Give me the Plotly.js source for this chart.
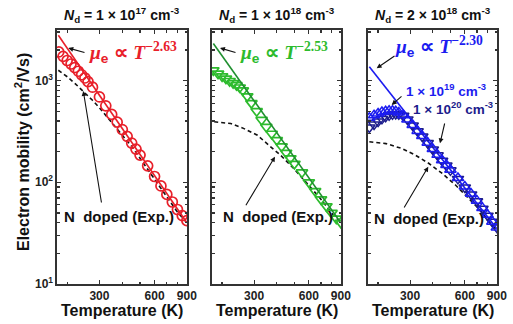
<!DOCTYPE html>
<html><head><meta charset="utf-8">
<script src="https://cdn.plot.ly/plotly-3.0.1.min.js"></script>
<style>html,body{margin:0;padding:0;background:#fff;}#chart{width:513px;height:324px;}</style>
</head><body><div id="chart"></div>
<script>
// ---- Panel 1: Nd = 1e17 (red) ----
const T_calc17 = [180,190,200,210,220,230,240,250,260,275,300,325,350,375,400,425,450,475,500,550,600,650,700,750,800,850,900];
const mu_calc17 = [1910,1730,1575,1455,1340,1235,1140,1060,975,860,690,565,465,390,330,283,243,212,185,145,114,92,76,64,54,47,42];
const T_fit17 = [179,900];
const mu_fit17 = [2790,40];
const T_exp17 = [179,200,221,250,275,300,350,400,450,500,600,700,800,900];
const mu_exp17 = [1263,1090,934,760,640,540,390,295,225,172,107,72,51,40];

// ---- Panel 2: Nd = 1e18 (green) ----
const T_calc18 = [179,190,200,210,220,230,240,250,260,275,290,310,330,350,375,400,425,450,475,500,550,600,650,700,750,800,850,900];
const mu_calc18 = [1260,1170,1100,1045,990,945,900,855,800,700,600,500,410,350,300,260,225,195,172,152,125,100,82,68,58,50,44,40];
const T_fit18 = [179,900];
const mu_fit18 = [2310,40];
const T_exp18 = [181,223,264,313,370,420,497,588,696,822,900];
const mu_exp18 = [393,378,337,290,223,184,136,97,69,47,41];

// ---- Panel 3: Nd = 2e18 (blue) ----
const T_calc2e18 = [179,190,200,210,220,230,240,250,260,275,290,310,330,350,375,400,425,450,475,500,550,600,650,700,750,800,850,900];
const mu_calc_19 = [430,455,475,490,500,505,505,500,485,455,415,365,320,285,245,212,186,165,148,133,110,91,77,66,56,48,41,36];
const mu_calc_20 = [345,370,395,420,440,455,465,470,465,450,415,362,318,282,243,210,184,163,146,131,108,89,76,65,55,47,41,36];
const T_fit2e18 = [179,900];
const mu_fit2e18 = [1365,35];
const T_exp2e18 = [179,221,272,322,381,451,533,631,731,848,900];
const mu_exp2e18 = [250,240,214,184,153,122,94,69,53,37.5,34];

const panelTitles = ['1 × 10<sup>17</sup>','1 × 10<sup>18</sup>','2 × 10<sup>18</sup>'];
const fitExp = ['−2.63','−2.53','−2.30'];
const xTickVals = [300,600,900];
const xTickText = ['300','600','900'];
const yTickVals = [10,100,1000];
const yTickText = ['10<sup>1</sup>','10<sup>2</sup>','10<sup>3</sup>'];

const RED='#e8202a', GREEN_L='#1f8f2f', GREEN_M='#2dbb2d', BLUE='#1c1cf0', NAVY='#1c1c8c';

function tr(x,y,opts,ax){return Object.assign({x:x,y:y,xaxis:'x'+ax,yaxis:'y'+ax,showlegend:false,hoverinfo:'skip'},opts);}
const ex = {mode:'lines',line:{color:'#111',width:1.6,dash:'4px,3px'}};
const data = [
  tr(T_exp17,mu_exp17,ex,''),
  tr(T_calc17,mu_calc17,{mode:'markers',marker:{symbol:'circle-open',size:10,color:RED,line:{width:1.7,color:RED}}},''),
  tr(T_fit17,mu_fit17,{mode:'lines',line:{color:RED,width:1.6}},''),
  tr(T_exp18,mu_exp18,ex,'2'),
  tr(T_calc18,mu_calc18,{mode:'markers',marker:{symbol:'triangle-down-open',size:10,color:GREEN_M,line:{width:1.7,color:GREEN_M}}},'2'),
  tr(T_fit18,mu_fit18,{mode:'lines',line:{color:GREEN_L,width:1.6}},'2'),
  tr(T_exp2e18,mu_exp2e18,ex,'3'),
  tr(T_fit2e18,mu_fit2e18,{mode:'lines',line:{color:BLUE,width:1.6}},'3'),
  tr(T_calc2e18,mu_calc_20,{mode:'markers',marker:{symbol:'triangle-down-open',size:10,color:NAVY,line:{width:1.5,color:NAVY}}},'3'),
  tr(T_calc2e18,mu_calc_19,{mode:'markers',marker:{symbol:'triangle-up-open',size:10,color:BLUE,line:{width:1.5,color:BLUE}}},'3')
];
data.forEach(d=>{ if(d.xaxis==='x'){d.xaxis='x';d.yaxis='y';} });

const L=57,R=16,TOP=30,BOT=40,W=513-L-R,H=324-TOP-BOT;
const px=(x)=>(x-L)/W, py=(y)=>(324-BOT-y)/H;
const domains=[[px(57),px(187)],[px(212),px(341)],[px(368),px(497)]];

const FONT='Liberation Sans, Arial, sans-serif';
function xax(i){return {type:'log',range:[Math.log10(176),Math.log10(902)],domain:domains[i],anchor:i?'y'+(i+1):'y',
  tickvals:xTickVals,ticktext:xTickText,ticks:'inside',ticklen:4,tickwidth:1.2,tickcolor:'#333',
  showline:true,linecolor:'#333',linewidth:1.6,mirror:'ticks',showgrid:false,zeroline:false,
  tickfont:{family:FONT,size:12,color:'#222',weight:'bold'},
  minor:{tickvals:[200,400,500,700,800],ticks:'inside',ticklen:2.5,tickcolor:'#333',showgrid:false}};}
function yax(i){return {type:'log',range:[1,3.497],domain:[0,1],anchor:i?'x'+(i+1):'x',
  tickvals:yTickVals,ticktext:yTickText,showticklabels:i===0,ticks:'inside',ticklen:4,tickwidth:1.2,tickcolor:'#333',
  showline:true,linecolor:'#333',linewidth:1.6,mirror:'ticks',showgrid:false,zeroline:false,
  tickfont:{family:FONT,size:12,color:'#222',weight:'bold'},
  minor:{tickvals:[20,30,40,50,60,70,80,90,200,300,400,500,600,700,800,900,2000,3000],ticks:'inside',ticklen:2.5,tickcolor:'#333',showgrid:false}};}

const ann=[];
const txt=(x,y,text,size,color,extra)=>ann.push(Object.assign({xref:'paper',yref:'paper',x:px(x),y:py(y),text:text,showarrow:false,xanchor:'left',yanchor:'middle',font:{family:FONT,size:size,color:color,weight:'bold'}},extra||{}));
const arr=(hx,hy,tx,ty)=>ann.push({xref:'paper',yref:'paper',x:px(hx),y:py(hy),ax:tx-hx,ay:ty-hy,text:'',showarrow:true,arrowhead:2,arrowsize:0.9,arrowwidth:1.1,arrowcolor:'#111'});
const centers=[122,276.5,432.5];
for(let i=0;i<3;i++){
  txt(centers[i],15,'<i>N</i><sub>d</sub> = '+panelTitles[i]+' cm<sup>-3</sup>',14,'#111',{xanchor:'center'});
  txt(centers[i],310,'Temperature (K)',16,'#111',{xanchor:'center'});
}
txt(22,152,'Electron mobility (cm<sup>2</sup>/Vs)',16,'#111',{xanchor:'center',textangle:-90});
const muText=(e)=>'<span style="font-family:Liberation Serif"><i>μ</i></span><sub>e</sub> ∝ <span style="font-family:Liberation Serif"><i>T</i><sup>'+e+'</sup></span>';
// panel 1
txt(87,53,muText(fitExp[0]),19.5,RED);
arr(68.3,48,86,53);
txt(62,216.7,'N  doped (Exp.)',15,'#111');
arr(83.3,91,101.7,204);
// panel 2
txt(238,53,muText(fitExp[1]),19.5,GREEN_M);
arr(220,48,237,53);
txt(221,216.7,'N  doped (Exp.)',15,'#111');
arr(275,156.7,245,206.7);
// panel 3
txt(393,46,muText(fitExp[2]),19.5,BLUE);
arr(376.7,68.3,396,55);
txt(404,90,'1 × 10<sup>19</sup> cm<sup>-3</sup>',13.5,BLUE);
arr(391.7,105,403,95);
txt(411,108,'1 × 10<sup>20</sup> cm<sup>-3</sup>',13.5,NAVY);
arr(440,143.3,445,122);
txt(372,218,'N  doped (Exp.)',15,'#111');
arr(428.3,166.7,403.3,209);

const layout={width:513,height:324,margin:{l:L,r:R,t:TOP,b:BOT,pad:0},paper_bgcolor:'#fff',plot_bgcolor:'#fff',
  font:{family:FONT},showlegend:false,annotations:ann,
  xaxis:xax(0),xaxis2:xax(1),xaxis3:xax(2),yaxis:yax(0),yaxis2:yax(1),yaxis3:yax(2)};
Plotly.newPlot('chart',data,layout,{displayModeBar:false,staticPlot:true});
</script></body></html>
